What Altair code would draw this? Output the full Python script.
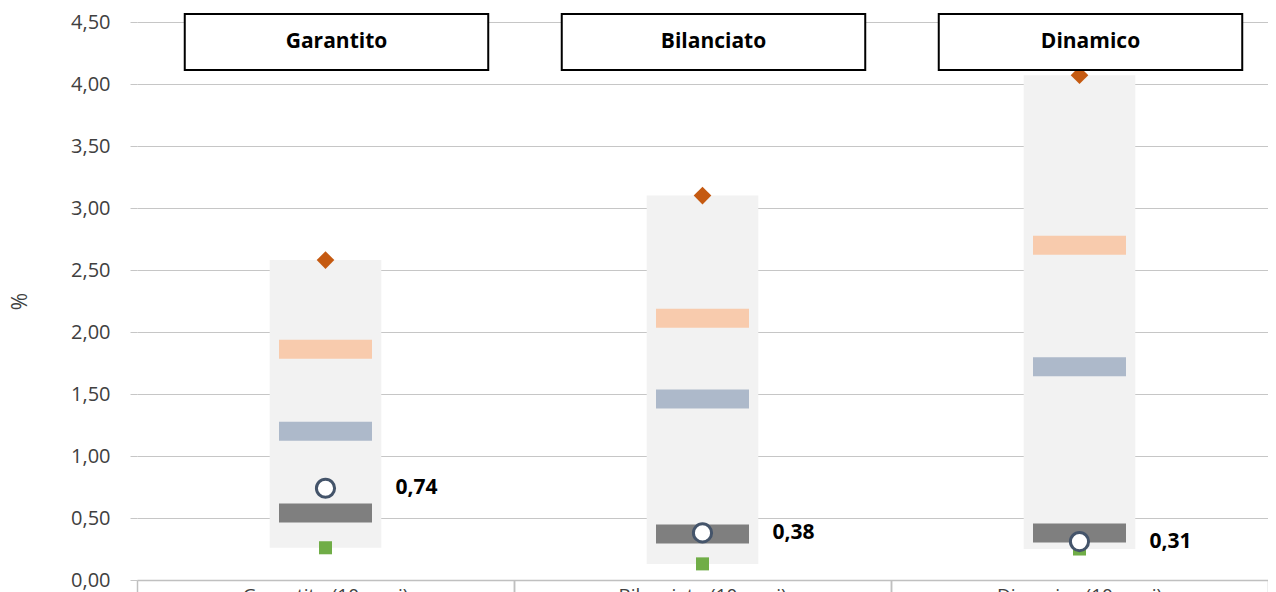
import altair as alt
import pandas as pd

categories = ["Garantito", "Bilanciato", "Dinamico"]
axis_labels = ["Garantito (10 anni)", "Bilanciato (10 anni)", "Dinamico (10 anni)"]
min_vals = [0.26, 0.13, 0.25]
max_vals = [2.58, 3.10, 4.07]
dark_vals = [0.54, 0.37, 0.38]
blue_vals = [1.20, 1.46, 1.72]
orange_vals = [1.86, 2.11, 2.70]
point_vals = [0.74, 0.38, 0.31]
y_ticks = [0, 0.5, 1.0, 1.5, 2.0, 2.5, 3.0, 3.5, 4.0, 4.5]

df = pd.DataFrame({
    "cat": axis_labels,
    "head": categories,
    "min": min_vals,
    "max": max_vals,
    "dark": dark_vals,
    "blue": blue_vals,
    "orange": orange_vals,
    "point": point_vals,
})

FONT = "Open Sans"
xscale = alt.Scale(paddingInner=0, paddingOuter=0)
ydom = alt.Scale(domain=[0, 4.5], nice=False, zero=True)

base = alt.Chart(df)

label_axis = alt.Axis(title=None, orient="bottom", labelAngle=0, ticks=False, domain=True,
                      domainColor="#c0c0c0", domainWidth=1.5, grid=False,
                      labelFontSize=19, labelPadding=6, labelColor="#404040",
                      labelFont=FONT)
tick_axis_start = alt.Axis(title=None, orient="bottom", labels=False, domain=False, ticks=True,
                           tickSize=16, tickColor="#c0c0c0", tickWidth=1.5,
                           bandPosition=0, grid=False)
tick_axis_end = alt.Axis(title=None, orient="bottom", labels=False, domain=False, ticks=True,
                         tickSize=16, tickColor="#c0c0c0", tickWidth=1.5,
                         bandPosition=1, grid=False)

y_axis = alt.Axis(values=y_ticks, labelExpr="replace(format(datum.value, '.2f'), '.', ',')",
                  grid=True, gridColor="#c6c6c6", gridWidth=1.2, domain=False,
                  tickColor="#c6c6c6", tickSize=7, labelFontSize=20, labelPadding=20,
                  labelColor="#404040", labelFont=FONT, title="%", titleFontSize=21,
                  titleFont=FONT, titleFontWeight="normal", titleColor="#404040",
                  titlePadding=40)

rng = base.mark_bar(color="#f2f2f2", width=alt.RelativeBandSize(0.296)).encode(
    x=alt.X("cat:N", sort=axis_labels, scale=xscale, axis=label_axis),
    y=alt.Y("min:Q", scale=ydom, axis=y_axis),
    y2="max:Q",
)

def tick_layer(field, color, axis=None):
    return base.mark_tick(thickness=19, size=93, color=color, opacity=1).encode(
        x=alt.X("cat:N", sort=axis_labels, scale=xscale, axis=axis),
        y=alt.Y(f"{field}:Q", scale=ydom),
    )

dark = tick_layer("dark", "#7f7f7f", tick_axis_start)
blue = tick_layer("blue", "#adb9ca", tick_axis_end)
orange = tick_layer("orange", "#f8cbad")

xenc = alt.X("cat:N", sort=axis_labels, scale=xscale, axis=None)

diamond = base.mark_point(shape="diamond", filled=True, color="#c55a11", size=310, opacity=1).encode(
    x=xenc, y=alt.Y("max:Q", scale=ydom))
square = base.mark_point(shape="square", filled=True, color="#70ad47", size=170, opacity=1).encode(
    x=xenc, y=alt.Y("min:Q", scale=ydom))
circle = base.mark_point(shape="circle", filled=True, fill="white", stroke="#44546a",
                         strokeWidth=3, size=330, opacity=1).encode(
    x=xenc, y=alt.Y("point:Q", scale=ydom))
labels = base.mark_text(align="left", baseline="middle", dx=70, fontSize=21,
                        fontWeight="bold", font=FONT, color="#000000").transform_calculate(
    lab="replace(format(datum.point, '.2f'), '.', ',')"
).encode(x=xenc, y=alt.Y("point:Q", scale=ydom), text="lab:N")

head_box = base.mark_bar(fill="white", stroke="#000000", strokeWidth=2, xOffset=11,
                         width=alt.RelativeBandSize(0.805)).encode(
    x=xenc, y=alt.value(-8), y2=alt.value(48))
head_text = base.mark_text(fontSize=21, fontWeight="bold", font=FONT, color="#000000",
                           baseline="middle", dx=11).encode(
    x=xenc, y=alt.value(20), text="head:N")

chart = alt.layer(rng, dark, blue, orange, diamond, square, circle, labels,
                  head_box, head_text).resolve_axis(x="independent").properties(
    width=1131, height=558,
    autosize=alt.AutoSizeParams(type="none"),
    padding={"left": 129, "top": 14, "right": 0, "bottom": 12},
).configure_view(stroke=None)

chart.save("out.html", embed_options={"renderer": "svg", "actions": False})
